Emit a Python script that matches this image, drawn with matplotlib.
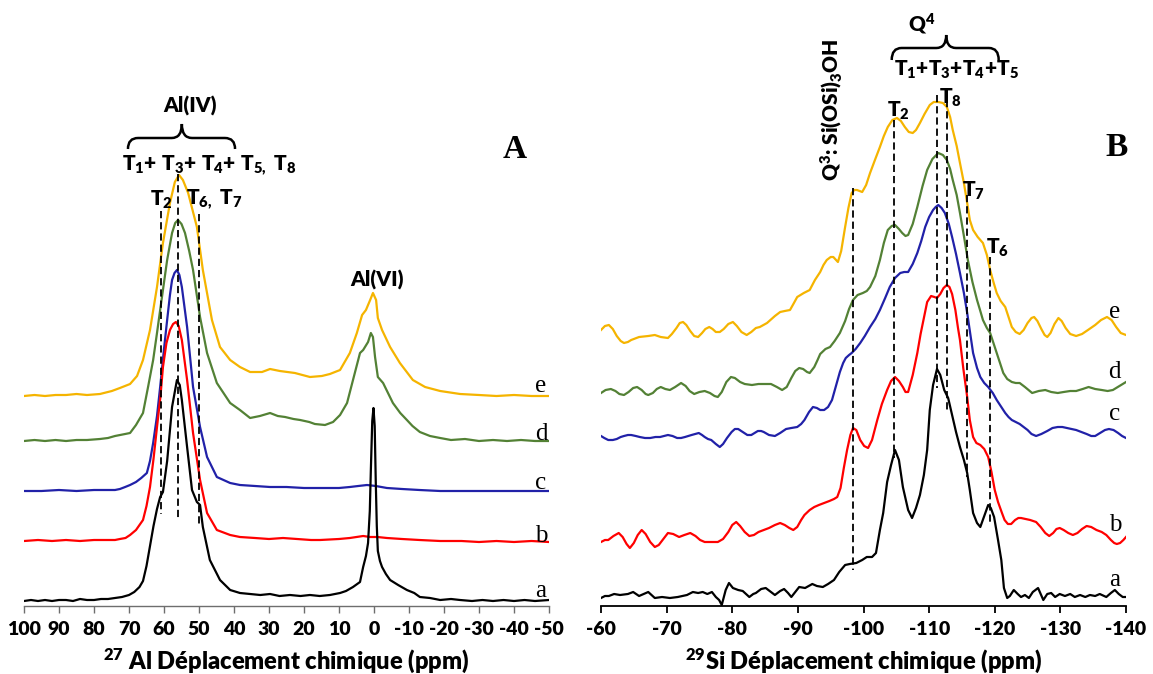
import numpy as np
import matplotlib
matplotlib.use("Agg")
import matplotlib.pyplot as plt
from matplotlib.path import Path
from matplotlib.patches import PathPatch

plt.rcParams['font.family'] = ['Lato', 'DejaVu Sans']
plt.rcParams['axes.unicode_minus'] = False
plt.rcParams['mathtext.fontset'] = 'custom'
plt.rcParams['mathtext.rm'] = 'Lato'
plt.rcParams['mathtext.bf'] = 'Lato:weight=heavy'
plt.rcParams['mathtext.it'] = 'Lato:italic'

# ---------------- 27Al MAS NMR spectra (panel A) ----------------
AL_A_PPM = [100, 98, 96, 94, 92, 90, 88, 86, 84, 82, 80, 78, 76, 74, 72, 70, 68.5, 67, 66, 65, 64, 63, 62,
            61.1, 60.3, 59.1, 57.7, 56.3, 55.5, 54.9, 53.4, 52.0, 50.6, 49.7, 48.9, 46.9, 44.0, 41.1, 38.3,
            35.4, 32.5, 29.7, 27, 24, 21, 18.3, 15.5, 12.6, 9.7, 8, 6.0, 4.0, 3.1, 2.3, 1.7, 1.2, 0.9, 0.5,
            0.15, -0.2, -0.5, -0.8, -1.1, -1.7, -2.3, -3.4, -4.6, -6.9, -9.4, -11.5, -13.1, -16, -18.9, -22,
            -24.6, -28, -31, -34, -37, -40, -43, -46, -50]
AL_A_INT = [0, 1, 0, 1, 0, 1, 1, 0, 2, 1, 1, 2, 2, 3, 4, 6, 9, 14, 20, 35, 55, 75, 92,
            104, 109, 140, 194, 221, 216, 201, 154, 111, 99, 96, 74, 41, 21, 11, 8,
            7, 6, 7, 5, 6, 5, 6, 5, 6, 8, 10, 14, 19, 34, 45, 58, 90, 131, 180,
            193, 175, 120, 75, 50, 40, 34, 27, 21, 16, 11, 8, 4, 3, 1, 2,
            1, 0, 1, 0, 1, 0, 1, 0, 1]

AL_B_PPM = [100, 96, 92, 88, 84, 80, 76, 74, 72.6, 71, 69.7, 68, 66, 65, 64, 63, 62, 61, 60.3, 59.3, 58.3,
            57.4, 56.6, 55.8, 54.9, 53.4, 51.7, 49.7, 47.7, 44.9, 41.1, 38.3, 34, 30, 26, 22, 18, 15.4, 10,
            6.9, 3.1, 1.1, -1, -3.7, -8, -13, -18.9, -25, -30, -35, -40, -45, -50]
AL_B_INT = [0, 1, 0, 1, 0, 1, 1, 1, 2, 3, 6, 11, 21, 35, 54, 82, 114, 145, 174, 198, 211,
            217, 219, 215, 201, 161, 108, 61, 28, 11, 6, 4, 3, 2, 3, 2, 1, 1, 2,
            3, 5, 4, 4, 3, 2, 1, 0, 0, -1, 0, -1, 0, -1]

AL_C_PPM = [100, 95, 90, 85, 80, 76, 74, 72.6, 71.1, 69.7, 68, 66.5, 64.9, 64, 63.1, 62, 61.1, 60, 59.1,
            58.3, 57.7, 57, 56.3, 55.6, 54.9, 53.4, 51.7, 49.7, 47.7, 44.9, 41.1, 38.3, 34, 29.7, 25, 20,
            15.4, 10, 6.9, 4.5, 2, -0.5, -3.7, -8, -13, -18.9, -25, -32, -40, -50]
AL_C_INT = [0, 0, 1, 0, 1, 1, 1, 2, 4, 6, 9, 13, 18, 30, 48, 75, 104, 142, 171,
            196, 211, 218, 221, 216, 204, 164, 104, 64, 34, 14, 8, 6, 5, 4, 4, 3,
            3, 3, 4, 5, 6, 5, 3, 2, 1, 0, 0, 0, 0, 0]

AL_D_PPM = [100, 97, 94, 91, 88, 85, 82, 78.3, 76, 74, 71.1, 69.7, 68, 66, 64.5, 63.1, 62, 61.1, 59.1,
            57.7, 56.8, 56, 55, 54, 52.8, 51.7, 49.7, 47.7, 44.9, 41.1, 38.3, 35.4, 32.6, 29.7, 27.5, 25.4,
            23, 21.1, 18.5, 16.9, 14, 11.7, 9.7, 7.7, 6, 4, 3.1, 1.7, 0.9, 0.3, -0.3, -1.1, -2.6, -4, -5.4,
            -7.5, -9.4, -11, -13.1, -16, -18.9, -22, -26, -30, -34, -38, -42, -46, -50]
AL_D_INT = [0, 1, 0, 1, 0, 1, 1, 2, 3, 5, 7, 8, 16, 28, 55, 81, 108, 131, 181,
            208, 218, 221, 217, 208, 190, 171, 124, 88, 58, 38, 31, 23, 25, 28, 25, 24,
            22, 21, 19, 17, 16, 19, 26, 38, 61, 88, 91, 99, 108, 104, 84, 64, 58, 48, 38,
            28, 21, 15, 9, 5, 3, 1, 2, 0, 1, 0, 1, 0, 0]

AL_E_PPM = [100, 97, 94, 91, 88, 85, 82, 78.3, 74.9, 72.6, 69.7, 67.7, 66, 64, 62, 60.3, 58.3, 56.9, 55.7,
            54.6, 53.1, 50.6, 48.9, 46.3, 44, 41.1, 38.3, 35.4, 32, 29.7, 26.9, 22.6, 18.3, 14.9, 12.6, 9.7,
            6.9, 4.9, 3.4, 2.3, 1.1, 0.3, -0.6, -1.1, -2.3, -4.6, -7.4, -11.1, -14.6, -18.9, -24.6, -30,
            -35, -40, -45, -50]
AL_E_INT = [0, 1, 0, 1, 1, 2, 1, 2, 5, 8, 12, 20, 36, 66, 109, 153, 193, 214, 221,
            216, 203, 169, 126, 76, 49, 36, 29, 24, 24, 27, 25, 23, 19, 20, 22, 26,
            43, 63, 81, 86, 96, 103, 96, 78, 66, 49, 33, 16, 9, 5, 2, 1,
            0, 1, 0, 0]

AL_OFFSETS = [5, 65, 115, 165, 210]          # a, b, c, d, e

# ---------------- 29Si MAS NMR spectra (panel B) ----------------
SI_A_PPM = [-60.0, -60.6, -61.2, -62.0, -62.9, -64.1, -64.9, -65.8, -67.2, -68.2, -69.3, -70.5, -71.7, -73.1,
            -74.0, -74.8, -75.5, -76.2, -76.9, -77.5, -78.0, -78.4, -79.0, -79.5, -80.1, -80.9, -81.6, -82.6,
            -83.2, -83.6, -84.4, -85.1, -85.9, -86.5, -87.3, -87.9, -88.5, -89.0, -89.6, -90.2, -91.1, -92.2,
            -92.9, -93.8, -94.6, -95.5, -96.3, -97.2, -97.9, -98.9, -99.8, -100.5, -101.3, -101.9, -102.5,
            -103.0, -103.6, -104.2, -104.8, -105.4, -106.0, -106.8, -107.4, -108.0, -108.6, -109.2, -109.7,
            -110.1, -110.6, -111.2, -111.7, -112.3, -112.9, -113.5, -114.1, -114.7, -115.3, -115.8, -116.2,
            -116.7, -117.3, -117.8, -118.4, -119.0, -119.4, -119.9, -120.5, -121.0, -121.4, -121.9, -122.3,
            -122.9, -123.5, -124.0, -124.6, -125.2, -125.8, -126.6, -127.0, -127.4, -128.0, -128.6, -129.2,
            -129.9, -130.7, -131.5, -132.2, -133.0, -133.8, -134.5, -135.3, -136.0, -137.0, -137.7, -138.3,
            -138.9, -139.5, -140.0]
SI_A_INT = [-2, 0, 0, 2, 1, 2, 4, 0, 4, -2, -1, -2, -1, 1,
            4, 3, 4, 2, 4, -1, -4, -9, 6, 13, 8, 6, 5, -1,
            2, 3, 7, 8, 4, 1, 5, 7, 3, -1, 4, 9, 8, 12,
            10, 9, 12, 16, 24, 31, 32, 33, 36, 39, 39, 43, 66,
            83, 114, 131, 146, 136, 109, 86, 78, 88, 101, 121, 146,
            186, 211, 227, 221, 206, 198, 181, 164, 149, 136, 123, 106,
            83, 73, 69, 80, 91, 88, 79, 56, 36, 8, -2, 0,
            6, 2, -1, 1, -2, 4, 8, 2, -4, 2, 3, -1,
            2, 0, 2, -1, 1, -1, 1, 0, 2, -1, 3, 6,
            2, -1, -1]

SI_B_PPM = [-60.0, -60.6, -61.1, -61.9, -62.7, -63.3, -63.9, -64.4, -65.0, -65.6, -66.2, -66.8, -67.5, -68.2,
            -68.8, -69.5, -70.2, -71.0, -71.9, -72.7, -73.6, -74.4, -75.1, -75.8, -76.8, -77.8, -78.6, -79.4,
            -80.0, -80.6, -81.2, -81.9, -82.6, -83.3, -84.0, -84.8, -85.6, -86.5, -87.3, -88.0, -88.7, -89.3,
            -89.9, -90.5, -91.0, -91.8, -92.5, -93.2, -94.0, -94.8, -95.5, -96.0, -96.5, -97.0, -97.5, -98.0,
            -98.4, -98.9, -99.5, -100.1, -100.7, -101.3, -102.1, -102.8, -103.6, -104.2, -104.8, -105.4,
            -106.0, -106.4, -106.8, -107.5, -108.2, -108.7, -109.2, -109.7, -110.3, -110.8, -111.2, -111.7,
            -112.2, -112.7, -113.1, -113.5, -114.0, -114.4, -114.7, -115.2, -115.8, -116.2, -116.7, -117.2,
            -117.8, -118.4, -119.0, -119.5, -120.0, -120.5, -121.1, -121.5, -122.0, -122.5, -123.1, -123.6,
            -124.0, -124.7, -125.4, -126.3, -127.0, -127.7, -128.3, -128.9, -129.4, -129.9, -130.5, -131.2,
            -131.9, -132.6, -133.3, -134.0, -134.7, -135.5, -136.3, -137.0, -137.7, -138.2, -138.6, -139.1,
            -139.6, -140.0]
SI_B_INT = [-2, 0, 0, 4, 7, 3, -4, -8, -3, 5, 10, 6, -2, -7,
            -5, 1, 7, 6, 3, 5, 7, 4, 0, -2, -2, -2, 1, 8,
            15, 18, 14, 8, 4, 5, 8, 10, 12, 15, 17, 15, 12, 10,
            13, 20, 25, 30, 33, 35, 37, 39, 41, 43, 52, 72, 90, 105,
            112, 110, 100, 94, 92, 100, 120, 136, 150, 159, 163, 159,
            153, 148, 148, 165, 187, 206, 222, 238, 244, 243, 242, 246,
            252, 255, 253, 246, 230, 212, 200, 172, 143, 120, 103, 97,
            95, 91, 83, 68, 50, 38, 27, 20, 16, 16, 20, 22,
            22, 21, 20, 18, 13, 7, 4, 7, 11, 12, 10, 7,
            5, 7, 11, 14, 13, 10, 8, 5, 0, -3, -4, -3,
            0, 3]

SI_C_PPM = [-60.0, -60.5, -61.1, -61.8, -62.4, -63.0, -63.5, -64.1, -64.6, -65.3, -65.9, -66.7, -67.5, -68.3,
            -69.0, -69.6, -70.2, -70.9, -71.6, -72.2, -72.8, -73.8, -74.9, -75.4, -75.8, -76.3, -76.8, -77.5,
            -78.1, -78.6, -79.2, -79.9, -80.4, -80.9, -81.6, -82.3, -82.9, -83.4, -83.9, -84.4, -84.8, -85.6,
            -86.5, -87.3, -88.2, -89.0, -89.9, -90.5, -91.0, -91.7, -92.3, -92.9, -93.4, -94.0, -94.6, -95.2,
            -95.8, -96.4, -96.9, -97.3, -97.8, -98.2, -98.8, -99.5, -100.2, -101.0, -101.8, -102.5, -103.3,
            -104.0, -104.8, -105.6, -106.2, -106.8, -107.5, -108.2, -108.8, -109.4, -110.0, -110.6, -111.0,
            -111.4, -111.9, -112.4, -113.0, -113.5, -114.1, -114.7, -115.3, -115.8, -116.3, -116.7, -117.3,
            -117.8, -118.4, -119.0, -119.7, -120.3, -121.0, -121.6, -122.1, -122.6, -123.2, -123.8, -124.4,
            -125.0, -125.6, -126.3, -127.1, -128.0, -128.8, -129.6, -130.3, -131.0, -131.7, -132.4, -133.2,
            -134.0, -134.7, -135.3, -135.8, -136.3, -136.8, -137.4, -138.1, -138.8, -139.4, -140.0]
SI_C_INT = [0, -2, -4, -4, -3, -1, 0, 1, 1, 0, -1, -2, -2, -1,
            -1, 0, 1, 0, -2, -2, -1, 1, 3, 1, -1, -3, -4, -8,
            -11, -8, -2, 4, 7, 7, 4, 1, 1, 3, 5, 5, 4, 1,
            0, 3, 7, 8, 9, 12, 16, 24, 29, 28, 26, 26, 29, 36,
            50, 64, 73, 78, 81, 83, 87, 93, 100, 109, 117, 126, 138,
            149, 158, 163, 164, 164, 172, 183, 195, 209, 219, 226, 229,
            231, 228, 223, 212, 199, 182, 163, 143, 123, 101, 83, 68,
            59, 53, 49, 43, 36, 29, 23, 19, 16, 14, 12, 9,
            6, 2, 0, 2, 5, 8, 9, 9, 8, 7, 6, 4,
            2, 0, 0, 2, 4, 6, 7, 6, 3, 0, -2]

SI_D_PPM = [-60.0, -60.7, -61.5, -62.2, -62.8, -63.5, -64.2, -64.9, -65.5, -66.2, -66.8, -67.2, -67.9, -68.5,
            -69.1, -69.8, -70.5, -71.3, -72.2, -72.9, -73.5, -74.2, -75.0, -75.8, -76.6, -77.3, -77.8, -78.4,
            -79.1, -79.8, -80.4, -81.2, -81.9, -83.0, -84.0, -85.0, -85.9, -86.8, -87.6, -88.3, -89.0, -89.6,
            -90.2, -90.8, -91.4, -91.8, -92.5, -93.0, -93.4, -94.2, -94.9, -95.6, -96.4, -97.2, -97.8, -98.4,
            -99.1, -99.9, -100.5, -101.0, -101.8, -102.5, -103.1, -103.7, -104.3, -104.8, -105.4, -105.9,
            -106.4, -106.8, -107.5, -108.2, -109.0, -109.7, -110.5, -111.4, -112.1, -112.7, -113.2, -113.6,
            -114.2, -114.7, -115.3, -115.9, -116.6, -117.3, -117.8, -118.2, -118.8, -119.3, -119.8, -120.3,
            -120.8, -121.3, -121.9, -122.6, -123.2, -123.8, -124.6, -125.7, -126.7, -127.7, -128.6, -129.6,
            -130.5, -131.5, -132.4, -133.4, -134.3, -135.3, -136.3, -137.2, -138.0, -139.0, -140.0]
SI_D_INT = [-2, 1, 2, 0, -3, -4, -1, 3, 4, 1, -3, -4, -2, 2,
            4, 2, 1, 4, 8, 5, 0, -3, -1, 0, -2, -5, -6, -1,
            9, 14, 13, 9, 7, 6, 7, 7, 7, 4, 1, 4, 13, 20,
            23, 22, 19, 18, 24, 31, 37, 42, 44, 50, 58, 70, 82, 91,
            96, 98, 100, 104, 115, 131, 148, 161, 165, 166, 162, 158,
            155, 156, 167, 184, 205, 221, 232, 238, 236, 231, 222, 211,
            196, 178, 155, 131, 109, 91, 80, 71, 63, 58, 48, 38,
            28, 18, 12, 9, 8, 8, 4, -2, 0, 1, -1, -2,
            -1, 0, 0, 2, 4, 2, 1, 0, 1, 5, 9]

SI_E_PPM = [-60.0, -60.6, -61.2, -61.8, -62.4, -63.0, -63.5, -64.1, -64.6, -65.8, -67.2, -68.2, -69.1, -70.2,
            -70.8, -71.5, -72.0, -72.5, -73.0, -73.6, -74.2, -74.8, -75.4, -75.9, -76.5, -77.0, -77.5, -78.1,
            -78.7, -79.4, -80.1, -80.7, -81.4, -82.2, -82.9, -83.6, -84.2, -85.3, -86.5, -87.3, -88.0, -88.8,
            -89.4, -89.9, -90.9, -91.8, -92.6, -93.4, -93.9, -94.4, -95.0, -95.4, -96.1, -96.6, -97.2, -97.7,
            -98.2, -98.6, -99.0, -99.8, -100.4, -101.0, -101.8, -102.5, -103.1, -103.7, -104.4, -105.1,
            -105.7, -106.3, -106.9, -107.5, -108.0, -108.6, -109.3, -110.1, -110.7, -111.4, -112.1, -112.7,
            -113.2, -113.6, -114.2, -114.7, -115.3, -115.8, -116.2, -116.7, -117.4, -118.2, -118.8, -119.3,
            -119.8, -120.3, -120.9, -121.6, -122.1, -122.6, -123.2, -123.8, -124.4, -125.0, -125.6, -126.0,
            -126.5, -127.1, -127.6, -128.0, -128.5, -129.1, -129.7, -130.2, -130.8, -131.5, -132.4, -133.3,
            -134.2, -135.3, -136.2, -137.1, -137.8, -138.5, -139.2, -140.0]
SI_E_INT = [3, 7, 8, 4, -3, -8, -10, -9, -7, -4, -3, -2, -4, -5,
            -1, 5, 10, 11, 8, 2, -3, -4, 0, 4, 6, 4, 1, 1,
            4, 9, 11, 7, 1, -2, 1, 5, 6, 10, 17, 21, 22, 23,
            30, 36, 40, 43, 53, 61, 68, 73, 76, 76, 71, 82, 106, 125,
            140, 143, 143, 141, 148, 160, 174, 186, 197, 206, 213, 215,
            212, 206, 201, 200, 203, 210, 219, 228, 231, 231, 230, 226,
            216, 203, 187, 170, 150, 130, 113, 103, 96, 90, 78, 63,
            51, 40, 32, 26, 16, 6, 1, -1, 3, 10, 15, 16,
            12, 4, -2, -4, 0, 9, 15, 12, 5, -1, -3, -1,
            3, 8, 13, 16, 13, 6, 0, -2]

SI_OFFSETS = [10, 66, 170, 215, 273]         # a, b, c, d, e

SAMPLE_LABELS = ['a', 'b', 'c', 'd', 'e']
COLORS = ['#000000', '#FF0000', '#2121A8', '#538135', '#F5B400']

AL_TICKS = list(range(100, -51, -10))
SI_TICKS = list(range(-60, -141, -10))

# ---------------- figure ----------------
W, H = 1153, 674
fig = plt.figure(figsize=(W / 100, H / 100), dpi=100)
ax_a = fig.add_axes([24 / W, 68 / H, 525 / W, 606 / H])
ax_b = fig.add_axes([601 / W, 68 / H, 525 / W, 606 / H])

HEAVY = 'heavy'
TXT = dict(fontweight=HEAVY, fontsize=15, ha='center', va='center')


def draw_brace(ax, x_left, x_right, x_tip, y_end, y_arm, y_tip, r):
    s = np.sign(x_right - x_left) * r
    verts = [(x_left, y_end),
             (x_left, y_arm), (x_left + s, y_arm),
             (x_tip - s, y_arm),
             (x_tip, y_arm), (x_tip, y_tip),
             (x_tip, y_arm), (x_tip + s, y_arm),
             (x_right - s, y_arm),
             (x_right, y_arm), (x_right, y_end)]
    codes = [Path.MOVETO, Path.CURVE3, Path.CURVE3, Path.LINETO, Path.CURVE3, Path.CURVE3,
             Path.CURVE3, Path.CURVE3, Path.LINETO, Path.CURVE3, Path.CURVE3]
    ax.add_patch(PathPatch(Path(verts, codes), fill=False, lw=1.8, edgecolor='black',
                           clip_on=False))


def dashed(ax, x, y0, y1):
    ax.plot([x, x], [y0, y1], color='black', lw=1.3, dashes=(4, 2.2), zorder=5)


def style_axis(ax, ticks, lim, spine_color, spine_w):
    ax.set_xlim(*lim)
    ax.set_ylim(0, 606)
    for side in ('top', 'left', 'right'):
        ax.spines[side].set_visible(False)
    ax.spines['bottom'].set_color(spine_color)
    ax.spines['bottom'].set_linewidth(spine_w)
    ax.set_yticks([])
    ax.set_xticks(ticks, [str(t) for t in ticks], fontweight=HEAVY, fontsize=14)
    ax.tick_params(axis='x', direction='out', length=5, width=spine_w, color=spine_color, pad=6)
    ax.patch.set_alpha(0)


# ---- panel A ----
al_sets = [(AL_A_PPM, AL_A_INT), (AL_B_PPM, AL_B_INT), (AL_C_PPM, AL_C_INT),
           (AL_D_PPM, AL_D_INT), (AL_E_PPM, AL_E_INT)]
for i in range(4, -1, -1):
    ppm, inten = al_sets[i]
    ax_a.plot(ppm, np.asarray(inten) + AL_OFFSETS[i], color=COLORS[i], lw=1.6, zorder=2 + (4 - i) * 0.1)

style_axis(ax_a, AL_TICKS, (100, -50), '#6E6E6E', 1.0)
ax_a.set_xlabel(r'$\mathbf{{}^{27}}$ Al Déplacement chimique (ppm)', fontweight=HEAVY, fontsize=17)
ax_a.xaxis.set_label_coords(0.5, -55 / 606)
ax_a.xaxis.label.set_va('center')

dashed(ax_a, 61.0, 395, 92)
dashed(ax_a, 56.0, 432, 85)
dashed(ax_a, 50.0, 392, 82)

draw_brace(ax_a, 70.3, 39.7, 54.9, 457, 468, 482, 2.9)
ax_a.text(52.6, 500, 'Al(IV)', **TXT)
ax_a.text(46.9, 441, r'$\mathbf{T_1{+}\ T_3{+}\ T_4{+}\ T_{5,}\ T_8}$', ha='center', va='center', fontsize=15)
ax_a.text(60.6, 406, r'$\mathbf{T_2}$', ha='center', va='center', fontsize=15)
ax_a.text(45.7, 408, r'$\mathbf{T_{6,}\ T_7}$', ha='center', va='center', fontsize=15)
ax_a.text(-0.9, 326, 'Al(VI)', **TXT)
ax_a.text(-40.3, 457, 'A', ha='center', va='center', fontsize=24, fontweight='bold',
          family='Liberation Serif')
for lbl, h in zip(SAMPLE_LABELS, [15, 70, 123, 172, 220]):
    ax_a.text(-47.7, h, lbl, ha='center', va='center', fontsize=18, family='Liberation Serif')

# ---- panel B ----
si_sets = [(SI_A_PPM, SI_A_INT), (SI_B_PPM, SI_B_INT), (SI_C_PPM, SI_C_INT),
           (SI_D_PPM, SI_D_INT), (SI_E_PPM, SI_E_INT)]
for i in range(4, -1, -1):
    ppm, inten = si_sets[i]
    ax_b.plot(ppm, np.asarray(inten) + SI_OFFSETS[i], color=COLORS[i], lw=1.6, zorder=2 + (4 - i) * 0.1)

style_axis(ax_b, SI_TICKS, (-60, -140), '#000000', 1.3)
ax_b.set_xlabel(r'$\mathbf{{}^{29}}$Si Déplacement chimique (ppm)', fontweight=HEAVY, fontsize=17)
ax_b.xaxis.set_label_coords(0.5, -55 / 606)
ax_b.xaxis.label.set_va('center')

dashed(ax_b, -98.4, 418, 36)
dashed(ax_b, -104.6, 486, 148)
dashed(ax_b, -111.2, 511, 218)
dashed(ax_b, -112.7, 506, 196)
dashed(ax_b, -115.8, 411, 129)
dashed(ax_b, -119.3, 349, 81)

draw_brace(ax_b, -104.3, -120.6, -112.6, 546, 558, 571, 1.5)
ax_b.text(-108.8, 582, r'$\mathbf{Q^4}$', ha='center', va='center', fontsize=15)
ax_b.text(-114.1, 536, r'$\mathbf{T_1{+}T_3{+}T_4{+}T_5}$', ha='center', va='center', fontsize=15)
ax_b.text(-113.3, 508, r'$\mathbf{T_8}$', ha='center', va='center', fontsize=15)
ax_b.text(-105.3, 495, r'$\mathbf{T_2}$', ha='center', va='center', fontsize=15)
ax_b.text(-116.7, 415, r'$\mathbf{T_7}$', ha='center', va='center', fontsize=15)
ax_b.text(-120.4, 358, r'$\mathbf{T_6}$', ha='center', va='center', fontsize=15)
ax_b.text(-95.2, 496, r'$\mathbf{Q^3}$: Si(OSi)$\mathbf{{}_3}$OH', rotation=90, **TXT)
ax_b.text(-138.6, 458, 'B', ha='center', va='center', fontsize=24, fontweight='bold',
          family='Liberation Serif')
for lbl, h in zip(SAMPLE_LABELS, [26, 81, 192, 234, 294]):
    ax_b.text(-138.3, h, lbl, ha='center', va='center', fontsize=18, family='Liberation Serif')

fig.savefig('out.png', dpi=100)
